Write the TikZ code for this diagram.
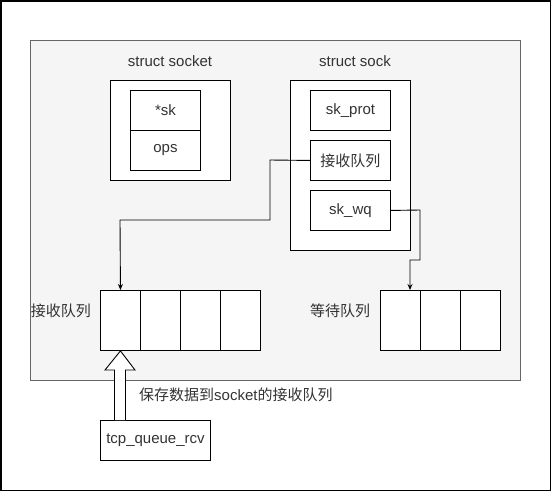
\documentclass[tikz,border=0pt]{standalone}
\usepackage{fontspec}
\usetikzlibrary{arrows.meta}
\setmainfont{Liberation Sans}
\newfontfamily\cjk{Noto Sans CJK SC}
\begin{document}
\begin{tikzpicture}[x=1pt,y=-1pt,
  every node/.style={font=\fontsize{15}{18}\selectfont, text=black!80, inner sep=0pt},
  box/.style={draw=black, fill=white, line width=0.9pt, minimum width=80pt, minimum height=40pt, anchor=north west},
  cell/.style={draw=black, fill=white, line width=0.9pt, minimum width=40pt, minimum height=60pt, anchor=north west},
  wire/.style={draw=black, line width=0.9pt},
  tip/.style={-{Stealth[length=6pt,width=5pt]}}
]
\useasboundingbox (0,0) rectangle (552,492);
\draw[line width=1.6pt] (0.8,0.8) rectangle (550.6,490.6);
\node[draw=black!60, fill=black!4, line width=0.9pt, minimum width=490pt, minimum height=340pt, anchor=north west] (bg) at (30,40) {};

\node (lsocket) at (170,61) {struct socket};
\node[box, minimum width=120pt, minimum height=100pt] (socket) at (110,80) {};
\node[box, minimum width=70pt] (sk) at (130,90) {*sk};
\node[box, minimum width=70pt] (ops) at (130,130) {ops};

\node (lsock) at (355,61) {struct sock};
\node[box, minimum width=120pt, minimum height=170pt] (sock) at (290,80) {};
\node[box] (skprot) at (310,90) {sk\_prot};
\node[box] (rq) at (310,140) {\cjk 接收队列};
\node[box] (skwq) at (310,190) {sk\_wq};

\node[cell] (r1) at (100,290) {};
\node[cell] (r2) at (140,290) {};
\node[cell] (r3) at (180,290) {};
\node[cell] (r4) at (220,290) {};
\node[anchor=east] (lrq) at (91,311) {\cjk 接收队列};

\node[cell] (w1) at (380,290) {};
\node[cell] (w2) at (420,290) {};
\node[cell] (w3) at (460,290) {};
\node (lwq) at (340,311) {\cjk 等待队列};

\node[box, minimum width=110pt] (tcp) at (100,420) {tcp\_queue\_rcv};
\node[anchor=west] (lsave) at (139,395) {{\cjk 保存数据到}socket{\cjk 的接收队列}};

\coordinate (a1) at (270,160);
\coordinate (a2) at (270,220);
\coordinate (a3) at (120,220);
\draw[wire,tip] (rq.west) -- (a1) -- (a2) -- (a3) -- (r1.north);

\coordinate (b1) at (420,210);
\coordinate (b2) at (420,260);
\coordinate (b3) at (410,260);
\draw[wire,tip] (skwq.east) -- (b1) -- (b2) -- (b3) -- (w1.north east -| b3);

\draw[wire, fill=white] (114.5,420) -- (114.5,370) -- (105,370) -- (r1.south) -- (135,370) -- (125.5,370) -- (125.5,420);
\end{tikzpicture}
\end{document}
